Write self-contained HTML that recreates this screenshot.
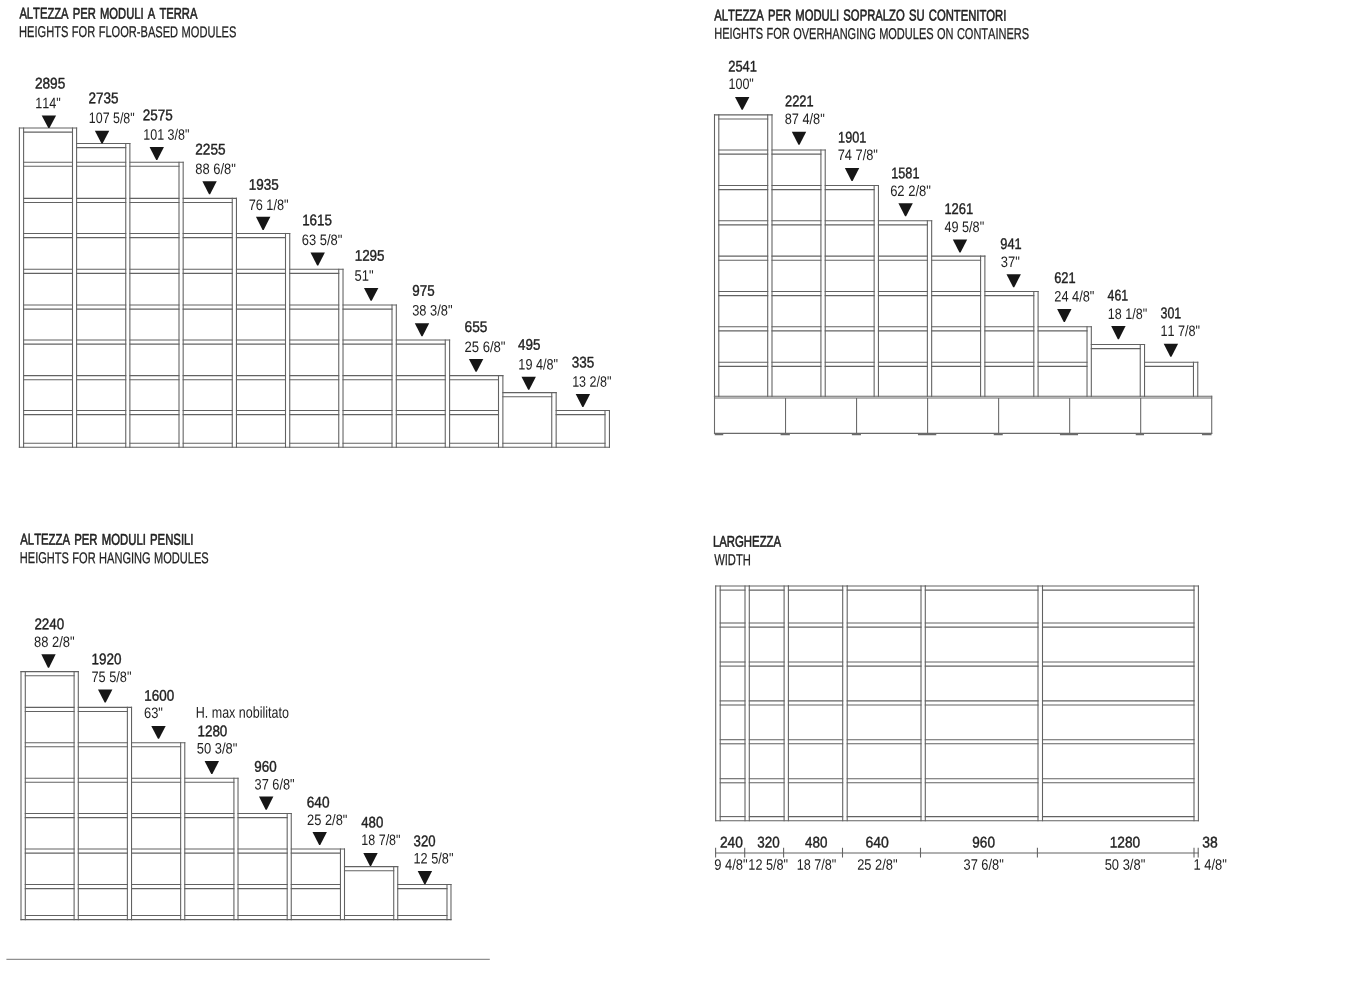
<!DOCTYPE html>
<html lang="it">
<head>
<meta charset="utf-8">
<title>Altezza e larghezza moduli</title>
<style>
html,body{margin:0;padding:0;background:#fff;}
body{width:1346px;height:996px;overflow:hidden;font-family:"Liberation Sans",Arial,Helvetica,sans-serif;}
svg{display:block;position:absolute;left:0;top:0;}
text{white-space:pre;text-rendering:geometricPrecision;font-kerning:none;}
text.b{stroke:#222222;stroke-width:0.4px;stroke-linejoin:round;}
text.m{stroke:#222222;stroke-width:0.25px;stroke-linejoin:round;}
text.t{stroke:#222222;stroke-width:0.6px;stroke-linejoin:round;}
</style>
</head>
<body>
<svg width="1346" height="996" viewBox="0 0 1346 996">
<g stroke="#626262" stroke-width="1.08" fill="none" stroke-linecap="square">
<line x1="19.40" y1="128.00" x2="19.40" y2="447.30"/>
<line x1="23.60" y1="128.00" x2="23.60" y2="447.30"/>
<line x1="19.40" y1="128.00" x2="76.60" y2="128.00"/>
<line x1="23.60" y1="132.10" x2="72.50" y2="132.10"/>
<line x1="72.50" y1="128.00" x2="72.50" y2="447.30"/>
<line x1="76.60" y1="128.00" x2="76.60" y2="447.30"/>
<line x1="23.60" y1="162.20" x2="72.50" y2="162.20"/>
<line x1="23.60" y1="166.30" x2="72.50" y2="166.30"/>
<line x1="23.60" y1="198.40" x2="72.50" y2="198.40"/>
<line x1="23.60" y1="202.50" x2="72.50" y2="202.50"/>
<line x1="23.60" y1="233.50" x2="72.50" y2="233.50"/>
<line x1="23.60" y1="237.60" x2="72.50" y2="237.60"/>
<line x1="23.60" y1="269.30" x2="72.50" y2="269.30"/>
<line x1="23.60" y1="273.40" x2="72.50" y2="273.40"/>
<line x1="23.60" y1="305.00" x2="72.50" y2="305.00"/>
<line x1="23.60" y1="309.10" x2="72.50" y2="309.10"/>
<line x1="23.60" y1="340.00" x2="72.50" y2="340.00"/>
<line x1="23.60" y1="344.10" x2="72.50" y2="344.10"/>
<line x1="23.60" y1="375.60" x2="72.50" y2="375.60"/>
<line x1="23.60" y1="379.70" x2="72.50" y2="379.70"/>
<line x1="23.60" y1="410.50" x2="72.50" y2="410.50"/>
<line x1="23.60" y1="414.60" x2="72.50" y2="414.60"/>
<line x1="23.60" y1="443.20" x2="72.50" y2="443.20"/>
<line x1="76.60" y1="143.50" x2="129.88" y2="143.50"/>
<line x1="76.60" y1="147.60" x2="125.75" y2="147.60"/>
<line x1="125.75" y1="143.50" x2="125.75" y2="447.30"/>
<line x1="129.88" y1="143.50" x2="129.88" y2="447.30"/>
<line x1="76.60" y1="162.20" x2="125.75" y2="162.20"/>
<line x1="76.60" y1="166.30" x2="125.75" y2="166.30"/>
<line x1="76.60" y1="198.40" x2="125.75" y2="198.40"/>
<line x1="76.60" y1="202.50" x2="125.75" y2="202.50"/>
<line x1="76.60" y1="233.50" x2="125.75" y2="233.50"/>
<line x1="76.60" y1="237.60" x2="125.75" y2="237.60"/>
<line x1="76.60" y1="269.30" x2="125.75" y2="269.30"/>
<line x1="76.60" y1="273.40" x2="125.75" y2="273.40"/>
<line x1="76.60" y1="305.00" x2="125.75" y2="305.00"/>
<line x1="76.60" y1="309.10" x2="125.75" y2="309.10"/>
<line x1="76.60" y1="340.00" x2="125.75" y2="340.00"/>
<line x1="76.60" y1="344.10" x2="125.75" y2="344.10"/>
<line x1="76.60" y1="375.60" x2="125.75" y2="375.60"/>
<line x1="76.60" y1="379.70" x2="125.75" y2="379.70"/>
<line x1="76.60" y1="410.50" x2="125.75" y2="410.50"/>
<line x1="76.60" y1="414.60" x2="125.75" y2="414.60"/>
<line x1="76.60" y1="443.20" x2="125.75" y2="443.20"/>
<line x1="129.88" y1="162.20" x2="183.17" y2="162.20"/>
<line x1="129.88" y1="166.30" x2="179.00" y2="166.30"/>
<line x1="179.00" y1="162.20" x2="179.00" y2="447.30"/>
<line x1="183.17" y1="162.20" x2="183.17" y2="447.30"/>
<line x1="129.88" y1="198.40" x2="179.00" y2="198.40"/>
<line x1="129.88" y1="202.50" x2="179.00" y2="202.50"/>
<line x1="129.88" y1="233.50" x2="179.00" y2="233.50"/>
<line x1="129.88" y1="237.60" x2="179.00" y2="237.60"/>
<line x1="129.88" y1="269.30" x2="179.00" y2="269.30"/>
<line x1="129.88" y1="273.40" x2="179.00" y2="273.40"/>
<line x1="129.88" y1="305.00" x2="179.00" y2="305.00"/>
<line x1="129.88" y1="309.10" x2="179.00" y2="309.10"/>
<line x1="129.88" y1="340.00" x2="179.00" y2="340.00"/>
<line x1="129.88" y1="344.10" x2="179.00" y2="344.10"/>
<line x1="129.88" y1="375.60" x2="179.00" y2="375.60"/>
<line x1="129.88" y1="379.70" x2="179.00" y2="379.70"/>
<line x1="129.88" y1="410.50" x2="179.00" y2="410.50"/>
<line x1="129.88" y1="414.60" x2="179.00" y2="414.60"/>
<line x1="129.88" y1="443.20" x2="179.00" y2="443.20"/>
<line x1="183.17" y1="198.40" x2="236.45" y2="198.40"/>
<line x1="183.17" y1="202.50" x2="232.25" y2="202.50"/>
<line x1="232.25" y1="198.40" x2="232.25" y2="447.30"/>
<line x1="236.45" y1="198.40" x2="236.45" y2="447.30"/>
<line x1="183.17" y1="233.50" x2="232.25" y2="233.50"/>
<line x1="183.17" y1="237.60" x2="232.25" y2="237.60"/>
<line x1="183.17" y1="269.30" x2="232.25" y2="269.30"/>
<line x1="183.17" y1="273.40" x2="232.25" y2="273.40"/>
<line x1="183.17" y1="305.00" x2="232.25" y2="305.00"/>
<line x1="183.17" y1="309.10" x2="232.25" y2="309.10"/>
<line x1="183.17" y1="340.00" x2="232.25" y2="340.00"/>
<line x1="183.17" y1="344.10" x2="232.25" y2="344.10"/>
<line x1="183.17" y1="375.60" x2="232.25" y2="375.60"/>
<line x1="183.17" y1="379.70" x2="232.25" y2="379.70"/>
<line x1="183.17" y1="410.50" x2="232.25" y2="410.50"/>
<line x1="183.17" y1="414.60" x2="232.25" y2="414.60"/>
<line x1="183.17" y1="443.20" x2="232.25" y2="443.20"/>
<line x1="236.45" y1="233.50" x2="289.74" y2="233.50"/>
<line x1="236.45" y1="237.60" x2="285.50" y2="237.60"/>
<line x1="285.50" y1="233.50" x2="285.50" y2="447.30"/>
<line x1="289.74" y1="233.50" x2="289.74" y2="447.30"/>
<line x1="236.45" y1="269.30" x2="285.50" y2="269.30"/>
<line x1="236.45" y1="273.40" x2="285.50" y2="273.40"/>
<line x1="236.45" y1="305.00" x2="285.50" y2="305.00"/>
<line x1="236.45" y1="309.10" x2="285.50" y2="309.10"/>
<line x1="236.45" y1="340.00" x2="285.50" y2="340.00"/>
<line x1="236.45" y1="344.10" x2="285.50" y2="344.10"/>
<line x1="236.45" y1="375.60" x2="285.50" y2="375.60"/>
<line x1="236.45" y1="379.70" x2="285.50" y2="379.70"/>
<line x1="236.45" y1="410.50" x2="285.50" y2="410.50"/>
<line x1="236.45" y1="414.60" x2="285.50" y2="414.60"/>
<line x1="236.45" y1="443.20" x2="285.50" y2="443.20"/>
<line x1="289.74" y1="269.30" x2="343.02" y2="269.30"/>
<line x1="289.74" y1="273.40" x2="338.75" y2="273.40"/>
<line x1="338.75" y1="269.30" x2="338.75" y2="447.30"/>
<line x1="343.02" y1="269.30" x2="343.02" y2="447.30"/>
<line x1="289.74" y1="305.00" x2="338.75" y2="305.00"/>
<line x1="289.74" y1="309.10" x2="338.75" y2="309.10"/>
<line x1="289.74" y1="340.00" x2="338.75" y2="340.00"/>
<line x1="289.74" y1="344.10" x2="338.75" y2="344.10"/>
<line x1="289.74" y1="375.60" x2="338.75" y2="375.60"/>
<line x1="289.74" y1="379.70" x2="338.75" y2="379.70"/>
<line x1="289.74" y1="410.50" x2="338.75" y2="410.50"/>
<line x1="289.74" y1="414.60" x2="338.75" y2="414.60"/>
<line x1="289.74" y1="443.20" x2="338.75" y2="443.20"/>
<line x1="343.02" y1="305.00" x2="396.31" y2="305.00"/>
<line x1="343.02" y1="309.10" x2="392.00" y2="309.10"/>
<line x1="392.00" y1="305.00" x2="392.00" y2="447.30"/>
<line x1="396.31" y1="305.00" x2="396.31" y2="447.30"/>
<line x1="343.02" y1="340.00" x2="392.00" y2="340.00"/>
<line x1="343.02" y1="344.10" x2="392.00" y2="344.10"/>
<line x1="343.02" y1="375.60" x2="392.00" y2="375.60"/>
<line x1="343.02" y1="379.70" x2="392.00" y2="379.70"/>
<line x1="343.02" y1="410.50" x2="392.00" y2="410.50"/>
<line x1="343.02" y1="414.60" x2="392.00" y2="414.60"/>
<line x1="343.02" y1="443.20" x2="392.00" y2="443.20"/>
<line x1="396.31" y1="340.00" x2="449.60" y2="340.00"/>
<line x1="396.31" y1="344.10" x2="445.25" y2="344.10"/>
<line x1="445.25" y1="340.00" x2="445.25" y2="447.30"/>
<line x1="449.60" y1="340.00" x2="449.60" y2="447.30"/>
<line x1="396.31" y1="375.60" x2="445.25" y2="375.60"/>
<line x1="396.31" y1="379.70" x2="445.25" y2="379.70"/>
<line x1="396.31" y1="410.50" x2="445.25" y2="410.50"/>
<line x1="396.31" y1="414.60" x2="445.25" y2="414.60"/>
<line x1="396.31" y1="443.20" x2="445.25" y2="443.20"/>
<line x1="449.60" y1="375.60" x2="502.88" y2="375.60"/>
<line x1="449.60" y1="379.70" x2="498.50" y2="379.70"/>
<line x1="498.50" y1="375.60" x2="498.50" y2="447.30"/>
<line x1="502.88" y1="375.60" x2="502.88" y2="447.30"/>
<line x1="449.60" y1="410.50" x2="498.50" y2="410.50"/>
<line x1="449.60" y1="414.60" x2="498.50" y2="414.60"/>
<line x1="449.60" y1="443.20" x2="498.50" y2="443.20"/>
<line x1="502.88" y1="392.60" x2="556.16" y2="392.60"/>
<line x1="502.88" y1="396.70" x2="551.75" y2="396.70"/>
<line x1="551.75" y1="392.60" x2="551.75" y2="447.30"/>
<line x1="556.16" y1="392.60" x2="556.16" y2="447.30"/>
<line x1="502.88" y1="443.20" x2="551.75" y2="443.20"/>
<line x1="556.16" y1="410.50" x2="609.45" y2="410.50"/>
<line x1="556.16" y1="414.60" x2="605.00" y2="414.60"/>
<line x1="605.00" y1="410.50" x2="605.00" y2="447.30"/>
<line x1="609.45" y1="410.50" x2="609.45" y2="447.30"/>
<line x1="556.16" y1="443.20" x2="605.00" y2="443.20"/>
<line x1="19.40" y1="447.30" x2="609.45" y2="447.30"/>
<line x1="714.50" y1="114.90" x2="714.50" y2="396.50"/>
<line x1="718.80" y1="114.90" x2="718.80" y2="396.50"/>
<line x1="714.50" y1="114.90" x2="772.00" y2="114.90"/>
<line x1="718.80" y1="119.00" x2="767.70" y2="119.00"/>
<line x1="767.70" y1="114.90" x2="767.70" y2="396.50"/>
<line x1="772.00" y1="114.90" x2="772.00" y2="396.50"/>
<line x1="718.80" y1="150.00" x2="767.70" y2="150.00"/>
<line x1="718.80" y1="154.10" x2="767.70" y2="154.10"/>
<line x1="718.80" y1="185.50" x2="767.70" y2="185.50"/>
<line x1="718.80" y1="189.60" x2="767.70" y2="189.60"/>
<line x1="718.80" y1="220.80" x2="767.70" y2="220.80"/>
<line x1="718.80" y1="224.90" x2="767.70" y2="224.90"/>
<line x1="718.80" y1="256.10" x2="767.70" y2="256.10"/>
<line x1="718.80" y1="260.20" x2="767.70" y2="260.20"/>
<line x1="718.80" y1="291.50" x2="767.70" y2="291.50"/>
<line x1="718.80" y1="295.60" x2="767.70" y2="295.60"/>
<line x1="718.80" y1="326.80" x2="767.70" y2="326.80"/>
<line x1="718.80" y1="330.90" x2="767.70" y2="330.90"/>
<line x1="718.80" y1="362.30" x2="767.70" y2="362.30"/>
<line x1="718.80" y1="366.40" x2="767.70" y2="366.40"/>
<line x1="772.00" y1="150.00" x2="825.22" y2="150.00"/>
<line x1="772.00" y1="154.10" x2="820.92" y2="154.10"/>
<line x1="820.92" y1="150.00" x2="820.92" y2="396.50"/>
<line x1="825.22" y1="150.00" x2="825.22" y2="396.50"/>
<line x1="772.00" y1="185.50" x2="820.92" y2="185.50"/>
<line x1="772.00" y1="189.60" x2="820.92" y2="189.60"/>
<line x1="772.00" y1="220.80" x2="820.92" y2="220.80"/>
<line x1="772.00" y1="224.90" x2="820.92" y2="224.90"/>
<line x1="772.00" y1="256.10" x2="820.92" y2="256.10"/>
<line x1="772.00" y1="260.20" x2="820.92" y2="260.20"/>
<line x1="772.00" y1="291.50" x2="820.92" y2="291.50"/>
<line x1="772.00" y1="295.60" x2="820.92" y2="295.60"/>
<line x1="772.00" y1="326.80" x2="820.92" y2="326.80"/>
<line x1="772.00" y1="330.90" x2="820.92" y2="330.90"/>
<line x1="772.00" y1="362.30" x2="820.92" y2="362.30"/>
<line x1="772.00" y1="366.40" x2="820.92" y2="366.40"/>
<line x1="825.22" y1="185.50" x2="878.44" y2="185.50"/>
<line x1="825.22" y1="189.60" x2="874.14" y2="189.60"/>
<line x1="874.14" y1="185.50" x2="874.14" y2="396.50"/>
<line x1="878.44" y1="185.50" x2="878.44" y2="396.50"/>
<line x1="825.22" y1="220.80" x2="874.14" y2="220.80"/>
<line x1="825.22" y1="224.90" x2="874.14" y2="224.90"/>
<line x1="825.22" y1="256.10" x2="874.14" y2="256.10"/>
<line x1="825.22" y1="260.20" x2="874.14" y2="260.20"/>
<line x1="825.22" y1="291.50" x2="874.14" y2="291.50"/>
<line x1="825.22" y1="295.60" x2="874.14" y2="295.60"/>
<line x1="825.22" y1="326.80" x2="874.14" y2="326.80"/>
<line x1="825.22" y1="330.90" x2="874.14" y2="330.90"/>
<line x1="825.22" y1="362.30" x2="874.14" y2="362.30"/>
<line x1="825.22" y1="366.40" x2="874.14" y2="366.40"/>
<line x1="878.44" y1="220.80" x2="931.66" y2="220.80"/>
<line x1="878.44" y1="224.90" x2="927.36" y2="224.90"/>
<line x1="927.36" y1="220.80" x2="927.36" y2="396.50"/>
<line x1="931.66" y1="220.80" x2="931.66" y2="396.50"/>
<line x1="878.44" y1="256.10" x2="927.36" y2="256.10"/>
<line x1="878.44" y1="260.20" x2="927.36" y2="260.20"/>
<line x1="878.44" y1="291.50" x2="927.36" y2="291.50"/>
<line x1="878.44" y1="295.60" x2="927.36" y2="295.60"/>
<line x1="878.44" y1="326.80" x2="927.36" y2="326.80"/>
<line x1="878.44" y1="330.90" x2="927.36" y2="330.90"/>
<line x1="878.44" y1="362.30" x2="927.36" y2="362.30"/>
<line x1="878.44" y1="366.40" x2="927.36" y2="366.40"/>
<line x1="931.66" y1="256.10" x2="984.88" y2="256.10"/>
<line x1="931.66" y1="260.20" x2="980.58" y2="260.20"/>
<line x1="980.58" y1="256.10" x2="980.58" y2="396.50"/>
<line x1="984.88" y1="256.10" x2="984.88" y2="396.50"/>
<line x1="931.66" y1="291.50" x2="980.58" y2="291.50"/>
<line x1="931.66" y1="295.60" x2="980.58" y2="295.60"/>
<line x1="931.66" y1="326.80" x2="980.58" y2="326.80"/>
<line x1="931.66" y1="330.90" x2="980.58" y2="330.90"/>
<line x1="931.66" y1="362.30" x2="980.58" y2="362.30"/>
<line x1="931.66" y1="366.40" x2="980.58" y2="366.40"/>
<line x1="984.88" y1="291.50" x2="1038.10" y2="291.50"/>
<line x1="984.88" y1="295.60" x2="1033.80" y2="295.60"/>
<line x1="1033.80" y1="291.50" x2="1033.80" y2="396.50"/>
<line x1="1038.10" y1="291.50" x2="1038.10" y2="396.50"/>
<line x1="984.88" y1="326.80" x2="1033.80" y2="326.80"/>
<line x1="984.88" y1="330.90" x2="1033.80" y2="330.90"/>
<line x1="984.88" y1="362.30" x2="1033.80" y2="362.30"/>
<line x1="984.88" y1="366.40" x2="1033.80" y2="366.40"/>
<line x1="1038.10" y1="326.80" x2="1091.32" y2="326.80"/>
<line x1="1038.10" y1="330.90" x2="1087.02" y2="330.90"/>
<line x1="1087.02" y1="326.80" x2="1087.02" y2="396.50"/>
<line x1="1091.32" y1="326.80" x2="1091.32" y2="396.50"/>
<line x1="1038.10" y1="362.30" x2="1087.02" y2="362.30"/>
<line x1="1038.10" y1="366.40" x2="1087.02" y2="366.40"/>
<line x1="1091.32" y1="344.50" x2="1144.54" y2="344.50"/>
<line x1="1091.32" y1="348.60" x2="1140.24" y2="348.60"/>
<line x1="1140.24" y1="344.50" x2="1140.24" y2="396.50"/>
<line x1="1144.54" y1="344.50" x2="1144.54" y2="396.50"/>
<line x1="1144.54" y1="362.30" x2="1197.76" y2="362.30"/>
<line x1="1144.54" y1="366.40" x2="1193.46" y2="366.40"/>
<line x1="1193.46" y1="362.30" x2="1193.46" y2="396.50"/>
<line x1="1197.76" y1="362.30" x2="1197.76" y2="396.50"/>
<line x1="714.50" y1="396.20" x2="1211.70" y2="396.20" stroke="#6a6a6a"/>
<line x1="714.50" y1="398.00" x2="1211.70" y2="398.00" stroke="#6a6a6a"/>
<line x1="714.50" y1="433.40" x2="1211.70" y2="433.40" stroke="#6a6a6a"/>
<line x1="714.50" y1="396.20" x2="714.50" y2="433.40" stroke="#6a6a6a"/>
<line x1="785.53" y1="398.60" x2="785.53" y2="433.40" stroke="#6a6a6a"/>
<line x1="856.56" y1="398.60" x2="856.56" y2="433.40" stroke="#6a6a6a"/>
<line x1="927.59" y1="398.60" x2="927.59" y2="433.40" stroke="#6a6a6a"/>
<line x1="998.62" y1="398.60" x2="998.62" y2="433.40" stroke="#6a6a6a"/>
<line x1="1069.65" y1="398.60" x2="1069.65" y2="433.40" stroke="#6a6a6a"/>
<line x1="1140.68" y1="398.60" x2="1140.68" y2="433.40" stroke="#6a6a6a"/>
<line x1="1211.71" y1="396.20" x2="1211.71" y2="433.40" stroke="#6a6a6a"/>
<line x1="715.50" y1="434.50" x2="722.50" y2="434.50" stroke="#6a6a6a" stroke-width="1.5"/>
<line x1="781.30" y1="434.50" x2="789.10" y2="434.50" stroke="#6a6a6a" stroke-width="1.5"/>
<line x1="852.60" y1="434.50" x2="860.20" y2="434.50" stroke="#6a6a6a" stroke-width="1.5"/>
<line x1="918.70" y1="434.50" x2="935.50" y2="434.50" stroke="#6a6a6a" stroke-width="1.5"/>
<line x1="994.50" y1="434.50" x2="1002.00" y2="434.50" stroke="#6a6a6a" stroke-width="1.5"/>
<line x1="1060.70" y1="434.50" x2="1077.30" y2="434.50" stroke="#6a6a6a" stroke-width="1.5"/>
<line x1="1136.50" y1="434.50" x2="1143.30" y2="434.50" stroke="#6a6a6a" stroke-width="1.5"/>
<line x1="1202.70" y1="434.50" x2="1210.80" y2="434.50" stroke="#6a6a6a" stroke-width="1.5"/>
<line x1="21.00" y1="671.60" x2="21.00" y2="919.60"/>
<line x1="25.30" y1="671.60" x2="25.30" y2="919.60"/>
<line x1="21.00" y1="671.60" x2="78.30" y2="671.60"/>
<line x1="25.30" y1="675.70" x2="74.10" y2="675.70"/>
<line x1="74.10" y1="671.60" x2="74.10" y2="919.60"/>
<line x1="78.30" y1="671.60" x2="78.30" y2="919.60"/>
<line x1="25.30" y1="707.40" x2="74.10" y2="707.40"/>
<line x1="25.30" y1="711.50" x2="74.10" y2="711.50"/>
<line x1="25.30" y1="742.70" x2="74.10" y2="742.70"/>
<line x1="25.30" y1="746.80" x2="74.10" y2="746.80"/>
<line x1="25.30" y1="778.20" x2="74.10" y2="778.20"/>
<line x1="25.30" y1="782.30" x2="74.10" y2="782.30"/>
<line x1="25.30" y1="813.50" x2="74.10" y2="813.50"/>
<line x1="25.30" y1="817.60" x2="74.10" y2="817.60"/>
<line x1="25.30" y1="849.00" x2="74.10" y2="849.00"/>
<line x1="25.30" y1="853.10" x2="74.10" y2="853.10"/>
<line x1="25.30" y1="884.50" x2="74.10" y2="884.50"/>
<line x1="25.30" y1="888.60" x2="74.10" y2="888.60"/>
<line x1="25.30" y1="915.50" x2="74.10" y2="915.50"/>
<line x1="78.30" y1="707.40" x2="131.54" y2="707.40"/>
<line x1="78.30" y1="711.50" x2="127.37" y2="711.50"/>
<line x1="127.37" y1="707.40" x2="127.37" y2="919.60"/>
<line x1="131.54" y1="707.40" x2="131.54" y2="919.60"/>
<line x1="78.30" y1="742.70" x2="127.37" y2="742.70"/>
<line x1="78.30" y1="746.80" x2="127.37" y2="746.80"/>
<line x1="78.30" y1="778.20" x2="127.37" y2="778.20"/>
<line x1="78.30" y1="782.30" x2="127.37" y2="782.30"/>
<line x1="78.30" y1="813.50" x2="127.37" y2="813.50"/>
<line x1="78.30" y1="817.60" x2="127.37" y2="817.60"/>
<line x1="78.30" y1="849.00" x2="127.37" y2="849.00"/>
<line x1="78.30" y1="853.10" x2="127.37" y2="853.10"/>
<line x1="78.30" y1="884.50" x2="127.37" y2="884.50"/>
<line x1="78.30" y1="888.60" x2="127.37" y2="888.60"/>
<line x1="78.30" y1="915.50" x2="127.37" y2="915.50"/>
<line x1="131.54" y1="742.70" x2="184.78" y2="742.70"/>
<line x1="131.54" y1="746.80" x2="180.64" y2="746.80"/>
<line x1="180.64" y1="742.70" x2="180.64" y2="919.60"/>
<line x1="184.78" y1="742.70" x2="184.78" y2="919.60"/>
<line x1="131.54" y1="778.20" x2="180.64" y2="778.20"/>
<line x1="131.54" y1="782.30" x2="180.64" y2="782.30"/>
<line x1="131.54" y1="813.50" x2="180.64" y2="813.50"/>
<line x1="131.54" y1="817.60" x2="180.64" y2="817.60"/>
<line x1="131.54" y1="849.00" x2="180.64" y2="849.00"/>
<line x1="131.54" y1="853.10" x2="180.64" y2="853.10"/>
<line x1="131.54" y1="884.50" x2="180.64" y2="884.50"/>
<line x1="131.54" y1="888.60" x2="180.64" y2="888.60"/>
<line x1="131.54" y1="915.50" x2="180.64" y2="915.50"/>
<line x1="184.78" y1="778.20" x2="238.02" y2="778.20"/>
<line x1="184.78" y1="782.30" x2="233.91" y2="782.30"/>
<line x1="233.91" y1="778.20" x2="233.91" y2="919.60"/>
<line x1="238.02" y1="778.20" x2="238.02" y2="919.60"/>
<line x1="184.78" y1="813.50" x2="233.91" y2="813.50"/>
<line x1="184.78" y1="817.60" x2="233.91" y2="817.60"/>
<line x1="184.78" y1="849.00" x2="233.91" y2="849.00"/>
<line x1="184.78" y1="853.10" x2="233.91" y2="853.10"/>
<line x1="184.78" y1="884.50" x2="233.91" y2="884.50"/>
<line x1="184.78" y1="888.60" x2="233.91" y2="888.60"/>
<line x1="184.78" y1="915.50" x2="233.91" y2="915.50"/>
<line x1="238.02" y1="813.50" x2="291.26" y2="813.50"/>
<line x1="238.02" y1="817.60" x2="287.18" y2="817.60"/>
<line x1="287.18" y1="813.50" x2="287.18" y2="919.60"/>
<line x1="291.26" y1="813.50" x2="291.26" y2="919.60"/>
<line x1="238.02" y1="849.00" x2="287.18" y2="849.00"/>
<line x1="238.02" y1="853.10" x2="287.18" y2="853.10"/>
<line x1="238.02" y1="884.50" x2="287.18" y2="884.50"/>
<line x1="238.02" y1="888.60" x2="287.18" y2="888.60"/>
<line x1="238.02" y1="915.50" x2="287.18" y2="915.50"/>
<line x1="291.26" y1="849.00" x2="344.50" y2="849.00"/>
<line x1="291.26" y1="853.10" x2="340.45" y2="853.10"/>
<line x1="340.45" y1="849.00" x2="340.45" y2="919.60"/>
<line x1="344.50" y1="849.00" x2="344.50" y2="919.60"/>
<line x1="291.26" y1="884.50" x2="340.45" y2="884.50"/>
<line x1="291.26" y1="888.60" x2="340.45" y2="888.60"/>
<line x1="291.26" y1="915.50" x2="340.45" y2="915.50"/>
<line x1="344.50" y1="866.60" x2="397.74" y2="866.60"/>
<line x1="344.50" y1="870.70" x2="393.72" y2="870.70"/>
<line x1="393.72" y1="866.60" x2="393.72" y2="919.60"/>
<line x1="397.74" y1="866.60" x2="397.74" y2="919.60"/>
<line x1="344.50" y1="915.50" x2="393.72" y2="915.50"/>
<line x1="397.74" y1="884.50" x2="450.98" y2="884.50"/>
<line x1="397.74" y1="888.60" x2="446.99" y2="888.60"/>
<line x1="446.99" y1="884.50" x2="446.99" y2="919.60"/>
<line x1="450.98" y1="884.50" x2="450.98" y2="919.60"/>
<line x1="397.74" y1="915.50" x2="446.99" y2="915.50"/>
<line x1="21.00" y1="919.60" x2="450.98" y2="919.60"/>
<line x1="715.70" y1="586.00" x2="715.70" y2="820.70"/>
<line x1="720.20" y1="586.00" x2="720.20" y2="820.70"/>
<line x1="715.70" y1="586.00" x2="749.30" y2="586.00"/>
<line x1="720.20" y1="590.10" x2="745.00" y2="590.10"/>
<line x1="745.00" y1="586.00" x2="745.00" y2="820.70"/>
<line x1="749.30" y1="586.00" x2="749.30" y2="820.70"/>
<line x1="720.20" y1="623.00" x2="745.00" y2="623.00"/>
<line x1="720.20" y1="627.10" x2="745.00" y2="627.10"/>
<line x1="720.20" y1="662.00" x2="745.00" y2="662.00"/>
<line x1="720.20" y1="666.10" x2="745.00" y2="666.10"/>
<line x1="720.20" y1="700.90" x2="745.00" y2="700.90"/>
<line x1="720.20" y1="705.00" x2="745.00" y2="705.00"/>
<line x1="720.20" y1="739.70" x2="745.00" y2="739.70"/>
<line x1="720.20" y1="743.80" x2="745.00" y2="743.80"/>
<line x1="720.20" y1="778.70" x2="745.00" y2="778.70"/>
<line x1="720.20" y1="782.80" x2="745.00" y2="782.80"/>
<line x1="720.20" y1="816.60" x2="745.00" y2="816.60"/>
<line x1="749.30" y1="586.00" x2="788.40" y2="586.00"/>
<line x1="749.30" y1="590.10" x2="784.10" y2="590.10"/>
<line x1="784.10" y1="586.00" x2="784.10" y2="820.70"/>
<line x1="788.40" y1="586.00" x2="788.40" y2="820.70"/>
<line x1="749.30" y1="623.00" x2="784.10" y2="623.00"/>
<line x1="749.30" y1="627.10" x2="784.10" y2="627.10"/>
<line x1="749.30" y1="662.00" x2="784.10" y2="662.00"/>
<line x1="749.30" y1="666.10" x2="784.10" y2="666.10"/>
<line x1="749.30" y1="700.90" x2="784.10" y2="700.90"/>
<line x1="749.30" y1="705.00" x2="784.10" y2="705.00"/>
<line x1="749.30" y1="739.70" x2="784.10" y2="739.70"/>
<line x1="749.30" y1="743.80" x2="784.10" y2="743.80"/>
<line x1="749.30" y1="778.70" x2="784.10" y2="778.70"/>
<line x1="749.30" y1="782.80" x2="784.10" y2="782.80"/>
<line x1="749.30" y1="816.60" x2="784.10" y2="816.60"/>
<line x1="788.40" y1="586.00" x2="847.20" y2="586.00"/>
<line x1="788.40" y1="590.10" x2="842.70" y2="590.10"/>
<line x1="842.70" y1="586.00" x2="842.70" y2="820.70"/>
<line x1="847.20" y1="586.00" x2="847.20" y2="820.70"/>
<line x1="788.40" y1="623.00" x2="842.70" y2="623.00"/>
<line x1="788.40" y1="627.10" x2="842.70" y2="627.10"/>
<line x1="788.40" y1="662.00" x2="842.70" y2="662.00"/>
<line x1="788.40" y1="666.10" x2="842.70" y2="666.10"/>
<line x1="788.40" y1="700.90" x2="842.70" y2="700.90"/>
<line x1="788.40" y1="705.00" x2="842.70" y2="705.00"/>
<line x1="788.40" y1="739.70" x2="842.70" y2="739.70"/>
<line x1="788.40" y1="743.80" x2="842.70" y2="743.80"/>
<line x1="788.40" y1="778.70" x2="842.70" y2="778.70"/>
<line x1="788.40" y1="782.80" x2="842.70" y2="782.80"/>
<line x1="788.40" y1="816.60" x2="842.70" y2="816.60"/>
<line x1="847.20" y1="586.00" x2="925.30" y2="586.00"/>
<line x1="847.20" y1="590.10" x2="921.00" y2="590.10"/>
<line x1="921.00" y1="586.00" x2="921.00" y2="820.70"/>
<line x1="925.30" y1="586.00" x2="925.30" y2="820.70"/>
<line x1="847.20" y1="623.00" x2="921.00" y2="623.00"/>
<line x1="847.20" y1="627.10" x2="921.00" y2="627.10"/>
<line x1="847.20" y1="662.00" x2="921.00" y2="662.00"/>
<line x1="847.20" y1="666.10" x2="921.00" y2="666.10"/>
<line x1="847.20" y1="700.90" x2="921.00" y2="700.90"/>
<line x1="847.20" y1="705.00" x2="921.00" y2="705.00"/>
<line x1="847.20" y1="739.70" x2="921.00" y2="739.70"/>
<line x1="847.20" y1="743.80" x2="921.00" y2="743.80"/>
<line x1="847.20" y1="778.70" x2="921.00" y2="778.70"/>
<line x1="847.20" y1="782.80" x2="921.00" y2="782.80"/>
<line x1="847.20" y1="816.60" x2="921.00" y2="816.60"/>
<line x1="925.30" y1="586.00" x2="1042.50" y2="586.00"/>
<line x1="925.30" y1="590.10" x2="1038.00" y2="590.10"/>
<line x1="1038.00" y1="586.00" x2="1038.00" y2="820.70"/>
<line x1="1042.50" y1="586.00" x2="1042.50" y2="820.70"/>
<line x1="925.30" y1="623.00" x2="1038.00" y2="623.00"/>
<line x1="925.30" y1="627.10" x2="1038.00" y2="627.10"/>
<line x1="925.30" y1="662.00" x2="1038.00" y2="662.00"/>
<line x1="925.30" y1="666.10" x2="1038.00" y2="666.10"/>
<line x1="925.30" y1="700.90" x2="1038.00" y2="700.90"/>
<line x1="925.30" y1="705.00" x2="1038.00" y2="705.00"/>
<line x1="925.30" y1="739.70" x2="1038.00" y2="739.70"/>
<line x1="925.30" y1="743.80" x2="1038.00" y2="743.80"/>
<line x1="925.30" y1="778.70" x2="1038.00" y2="778.70"/>
<line x1="925.30" y1="782.80" x2="1038.00" y2="782.80"/>
<line x1="925.30" y1="816.60" x2="1038.00" y2="816.60"/>
<line x1="1042.50" y1="586.00" x2="1198.40" y2="586.00"/>
<line x1="1042.50" y1="590.10" x2="1194.00" y2="590.10"/>
<line x1="1194.00" y1="586.00" x2="1194.00" y2="820.70"/>
<line x1="1198.40" y1="586.00" x2="1198.40" y2="820.70"/>
<line x1="1042.50" y1="623.00" x2="1194.00" y2="623.00"/>
<line x1="1042.50" y1="627.10" x2="1194.00" y2="627.10"/>
<line x1="1042.50" y1="662.00" x2="1194.00" y2="662.00"/>
<line x1="1042.50" y1="666.10" x2="1194.00" y2="666.10"/>
<line x1="1042.50" y1="700.90" x2="1194.00" y2="700.90"/>
<line x1="1042.50" y1="705.00" x2="1194.00" y2="705.00"/>
<line x1="1042.50" y1="739.70" x2="1194.00" y2="739.70"/>
<line x1="1042.50" y1="743.80" x2="1194.00" y2="743.80"/>
<line x1="1042.50" y1="778.70" x2="1194.00" y2="778.70"/>
<line x1="1042.50" y1="782.80" x2="1194.00" y2="782.80"/>
<line x1="1042.50" y1="816.60" x2="1194.00" y2="816.60"/>
<line x1="715.70" y1="820.70" x2="1198.40" y2="820.70"/>
<line x1="715.60" y1="853.00" x2="1198.20" y2="853.00"/>
<line x1="715.60" y1="848.30" x2="715.60" y2="857.00"/>
<line x1="744.70" y1="848.30" x2="744.70" y2="857.00"/>
<line x1="783.60" y1="848.30" x2="783.60" y2="857.00"/>
<line x1="842.50" y1="848.30" x2="842.50" y2="857.00"/>
<line x1="920.50" y1="848.30" x2="920.50" y2="857.00"/>
<line x1="1037.40" y1="848.30" x2="1037.40" y2="857.00"/>
<line x1="1194.00" y1="848.30" x2="1194.00" y2="857.00"/>
<line x1="1198.20" y1="848.30" x2="1198.20" y2="857.00"/>
<line x1="7" y1="959.3" x2="489.2" y2="959.3" stroke="#909090" stroke-width="1.2"/>
</g>
<g fill="#161616">
<path d="M41.70 115.50h14.40L49.45 128.05h-1.1z"/>
<path d="M94.85 130.80h14.40L102.60 143.45h-1.1z"/>
<path d="M149.55 147.00h14.40L157.30 160.05h-1.1z"/>
<path d="M202.35 181.30h14.40L210.10 194.35h-1.1z"/>
<path d="M255.95 216.80h14.40L263.70 229.95h-1.1z"/>
<path d="M310.50 252.50h14.40L318.25 265.55h-1.1z"/>
<path d="M363.95 287.90h14.40L371.70 300.65h-1.1z"/>
<path d="M414.80 323.20h14.40L422.55 336.15h-1.1z"/>
<path d="M468.90 359.10h14.40L476.65 371.85h-1.1z"/>
<path d="M521.50 376.80h14.40L529.25 389.65h-1.1z"/>
<path d="M575.70 394.00h14.40L583.45 407.05h-1.1z"/>
<path d="M735.00 96.90h14.40L742.75 109.65h-1.1z"/>
<path d="M791.80 131.80h14.40L799.55 144.65h-1.1z"/>
<path d="M844.85 167.90h14.40L852.60 180.95h-1.1z"/>
<path d="M898.40 203.30h14.40L906.15 216.35h-1.1z"/>
<path d="M952.80 239.40h14.40L960.55 252.45h-1.1z"/>
<path d="M1006.50 274.30h14.40L1014.25 287.25h-1.1z"/>
<path d="M1057.10 308.90h14.40L1064.85 322.05h-1.1z"/>
<path d="M1111.20 326.00h14.40L1118.95 339.25h-1.1z"/>
<path d="M1163.70 343.70h14.40L1171.45 356.85h-1.1z"/>
<path d="M41.30 654.30h14.40L49.05 667.65h-1.1z"/>
<path d="M98.00 689.50h14.40L105.75 702.45h-1.1z"/>
<path d="M151.30 726.00h14.40L159.05 738.85h-1.1z"/>
<path d="M204.60 761.10h14.40L212.35 774.05h-1.1z"/>
<path d="M259.00 796.60h14.40L266.75 809.85h-1.1z"/>
<path d="M312.50 832.00h14.40L320.25 845.05h-1.1z"/>
<path d="M363.30 852.90h14.40L371.05 865.95h-1.1z"/>
<path d="M417.70 871.00h14.40L425.45 884.15h-1.1z"/>
</g>
<g font-family="'Liberation Sans', Arial, Helvetica, sans-serif" fill="#222222">
<text transform="translate(19.39 18.60) scale(0.7144 1) rotate(0.04)" font-size="15.7" class="t" word-spacing="1.5">ALTEZZA PER MODULI A TERRA</text>
<text transform="translate(19.08 37.00) scale(0.7067 1) rotate(0.04)" font-size="15.7" class="m" word-spacing="0.5">HEIGHTS FOR FLOOR-BASED MODULES</text>
<text transform="translate(714.29 20.40) scale(0.7182 1) rotate(0.04)" font-size="15.7" class="t" word-spacing="1.5">ALTEZZA PER MODULI SOPRALZO SU CONTENITORI</text>
<text transform="translate(714.18 38.80) scale(0.7017 1) rotate(0.04)" font-size="15.7" class="m" word-spacing="0.5">HEIGHTS FOR OVERHANGING MODULES ON CONTAINERS</text>
<text transform="translate(20.29 544.60) scale(0.7221 1) rotate(0.04)" font-size="15.7" class="t" word-spacing="1.5">ALTEZZA PER MODULI PENSILI</text>
<text transform="translate(19.78 563.10) scale(0.7043 1) rotate(0.04)" font-size="15.7" class="m" word-spacing="0.5">HEIGHTS FOR HANGING MODULES</text>
<text transform="translate(712.88 546.70) scale(0.7252 1) rotate(0.04)" font-size="15.7" class="t" word-spacing="1.5">LARGHEZZA</text>
<text transform="translate(714.14 565.10) scale(0.7150 1) rotate(0.04)" font-size="15.7" class="m" word-spacing="0.5">WIDTH</text>
<text transform="translate(34.89 88.40) scale(0.8875 1) rotate(0.04)" font-size="15.4" class="b">2895</text>
<text transform="translate(35.24 108.20) scale(0.8289 1) rotate(0.04)" font-size="15.2">114&quot;</text>
<text transform="translate(88.40 103.20) scale(0.8755 1) rotate(0.04)" font-size="15.4" class="b">2735</text>
<text transform="translate(88.85 123.10) scale(0.8176 1) rotate(0.04)" font-size="15.2">107 5/8&quot;</text>
<text transform="translate(142.80 120.30) scale(0.8755 1) rotate(0.04)" font-size="15.4" class="b">2575</text>
<text transform="translate(143.25 139.80) scale(0.8231 1) rotate(0.04)" font-size="15.2">101 3/8&quot;</text>
<text transform="translate(195.29 154.40) scale(0.8845 1) rotate(0.04)" font-size="15.4" class="b">2255</text>
<text transform="translate(195.24 174.10) scale(0.8522 1) rotate(0.04)" font-size="15.2">88 6/8&quot;</text>
<text transform="translate(248.75 189.80) scale(0.8740 1) rotate(0.04)" font-size="15.4" class="b">1935</text>
<text transform="translate(248.65 209.90) scale(0.8393 1) rotate(0.04)" font-size="15.2">76 1/8&quot;</text>
<text transform="translate(302.15 225.20) scale(0.8709 1) rotate(0.04)" font-size="15.4" class="b">1615</text>
<text transform="translate(301.84 245.10) scale(0.8521 1) rotate(0.04)" font-size="15.2">63 5/8&quot;</text>
<text transform="translate(354.65 260.70) scale(0.8740 1) rotate(0.04)" font-size="15.4" class="b">1295</text>
<text transform="translate(354.58 280.80) scale(0.8552 1) rotate(0.04)" font-size="15.2">51&quot;</text>
<text transform="translate(412.25 295.80) scale(0.8695 1) rotate(0.04)" font-size="15.4" class="b">975</text>
<text transform="translate(412.21 315.50) scale(0.8464 1) rotate(0.04)" font-size="15.2">38 3/8&quot;</text>
<text transform="translate(464.58 332.00) scale(0.8879 1) rotate(0.04)" font-size="15.4" class="b">655</text>
<text transform="translate(464.44 352.00) scale(0.8628 1) rotate(0.04)" font-size="15.2">25 6/8&quot;</text>
<text transform="translate(518.07 349.80) scale(0.8687 1) rotate(0.04)" font-size="15.4" class="b">495</text>
<text transform="translate(518.34 369.40) scale(0.8331 1) rotate(0.04)" font-size="15.2">19 4/8&quot;</text>
<text transform="translate(571.86 367.50) scale(0.8769 1) rotate(0.04)" font-size="15.4" class="b">335</text>
<text transform="translate(572.14 386.70) scale(0.8266 1) rotate(0.04)" font-size="15.2">13 2/8&quot;</text>
<text transform="translate(728.22 71.40) scale(0.8391 1) rotate(0.04)" font-size="15.4" class="b">2541</text>
<text transform="translate(728.44 88.90) scale(0.8255 1) rotate(0.04)" font-size="15.2">100&quot;</text>
<text transform="translate(785.02 106.30) scale(0.8330 1) rotate(0.04)" font-size="15.4" class="b">2221</text>
<text transform="translate(784.75 124.10) scale(0.8393 1) rotate(0.04)" font-size="15.2">87 4/8&quot;</text>
<text transform="translate(838.10 142.60) scale(0.8218 1) rotate(0.04)" font-size="15.4" class="b">1901</text>
<text transform="translate(837.69 160.00) scale(0.8447 1) rotate(0.04)" font-size="15.2">74 7/8&quot;</text>
<text transform="translate(891.30 178.30) scale(0.8218 1) rotate(0.04)" font-size="15.4" class="b">1581</text>
<text transform="translate(890.14 196.00) scale(0.8564 1) rotate(0.04)" font-size="15.2">62 2/8&quot;</text>
<text transform="translate(944.38 213.90) scale(0.8416 1) rotate(0.04)" font-size="15.4" class="b">1261</text>
<text transform="translate(944.41 231.90) scale(0.8347 1) rotate(0.04)" font-size="15.2">49 5/8&quot;</text>
<text transform="translate(1000.37 249.10) scale(0.8326 1) rotate(0.04)" font-size="15.4" class="b">941</text>
<text transform="translate(1000.71 267.00) scale(0.8540 1) rotate(0.04)" font-size="15.2">37&quot;</text>
<text transform="translate(1054.21 283.00) scale(0.8347 1) rotate(0.04)" font-size="15.4" class="b">621</text>
<text transform="translate(1054.26 301.50) scale(0.8433 1) rotate(0.04)" font-size="15.2">24 4/8&quot;</text>
<text transform="translate(1107.58 300.60) scale(0.8004 1) rotate(0.04)" font-size="15.4" class="b">461</text>
<text transform="translate(1107.74 318.90) scale(0.8266 1) rotate(0.04)" font-size="15.2">18 1/8&quot;</text>
<text transform="translate(1160.49 318.30) scale(0.8079 1) rotate(0.04)" font-size="15.4" class="b">301</text>
<text transform="translate(1160.44 336.00) scale(0.8331 1) rotate(0.04)" font-size="15.2">11 7/8&quot;</text>
<text transform="translate(34.40 629.35) scale(0.8713 1) rotate(0.04)" font-size="15.4" class="b">2240</text>
<text transform="translate(33.94 646.90) scale(0.8522 1) rotate(0.04)" font-size="15.2">88 2/8&quot;</text>
<text transform="translate(91.55 664.15) scale(0.8758 1) rotate(0.04)" font-size="15.4" class="b">1920</text>
<text transform="translate(91.45 681.90) scale(0.8393 1) rotate(0.04)" font-size="15.2">75 5/8&quot;</text>
<text transform="translate(144.35 700.65) scale(0.8728 1) rotate(0.04)" font-size="15.4" class="b">1600</text>
<text transform="translate(143.99 718.10) scale(0.8499 1) rotate(0.04)" font-size="15.2">63&quot;</text>
<text transform="translate(197.45 736.25) scale(0.8728 1) rotate(0.04)" font-size="15.4" class="b">1280</text>
<text transform="translate(196.78 753.60) scale(0.8534 1) rotate(0.04)" font-size="15.2">50 3/8&quot;</text>
<text transform="translate(254.35 771.85) scale(0.8700 1) rotate(0.04)" font-size="15.4" class="b">960</text>
<text transform="translate(254.56 789.40) scale(0.8400 1) rotate(0.04)" font-size="15.2">37 6/8&quot;</text>
<text transform="translate(306.78 807.55) scale(0.8863 1) rotate(0.04)" font-size="15.4" class="b">640</text>
<text transform="translate(307.05 825.10) scale(0.8476 1) rotate(0.04)" font-size="15.2">25 2/8&quot;</text>
<text transform="translate(361.27 827.55) scale(0.8592 1) rotate(0.04)" font-size="15.4" class="b">480</text>
<text transform="translate(361.35 845.10) scale(0.8222 1) rotate(0.04)" font-size="15.2">18 7/8&quot;</text>
<text transform="translate(413.57 846.15) scale(0.8552 1) rotate(0.04)" font-size="15.4" class="b">320</text>
<text transform="translate(413.53 863.40) scale(0.8375 1) rotate(0.04)" font-size="15.2">12 5/8&quot;</text>
<text transform="translate(195.77 717.80) scale(0.7916 1) rotate(0.04)" font-size="15.8">H. max nobilitato</text>
<text transform="translate(719.89 847.50) scale(0.8900 1) rotate(0.04)" font-size="15.4" class="b">240</text>
<text transform="translate(714.19 869.70) scale(0.8535 1) rotate(0.04)" font-size="15.2">9 4/8&quot;</text>
<text transform="translate(757.26 847.50) scale(0.8713 1) rotate(0.04)" font-size="15.4" class="b">320</text>
<text transform="translate(748.33 869.70) scale(0.8353 1) rotate(0.04)" font-size="15.2">12 5/8&quot;</text>
<text transform="translate(805.07 847.50) scale(0.8711 1) rotate(0.04)" font-size="15.4" class="b">480</text>
<text transform="translate(796.64 869.70) scale(0.8309 1) rotate(0.04)" font-size="15.2">18 7/8&quot;</text>
<text transform="translate(865.47 847.50) scale(0.9105 1) rotate(0.04)" font-size="15.4" class="b">640</text>
<text transform="translate(857.15 869.70) scale(0.8476 1) rotate(0.04)" font-size="15.2">25 2/8&quot;</text>
<text transform="translate(972.34 847.50) scale(0.8801 1) rotate(0.04)" font-size="15.4" class="b">960</text>
<text transform="translate(963.51 869.70) scale(0.8443 1) rotate(0.04)" font-size="15.2">37 6/8&quot;</text>
<text transform="translate(1109.63 847.50) scale(0.8910 1) rotate(0.04)" font-size="15.4" class="b">1280</text>
<text transform="translate(1104.68 869.70) scale(0.8513 1) rotate(0.04)" font-size="15.2">50 3/8&quot;</text>
<text transform="translate(1202.15 847.50) scale(0.9033 1) rotate(0.04)" font-size="15.4" class="b">38</text>
<text transform="translate(1193.51 869.70) scale(0.8530 1) rotate(0.04)" font-size="15.2">1 4/8&quot;</text>
</g>
</svg>
</body>
</html>
